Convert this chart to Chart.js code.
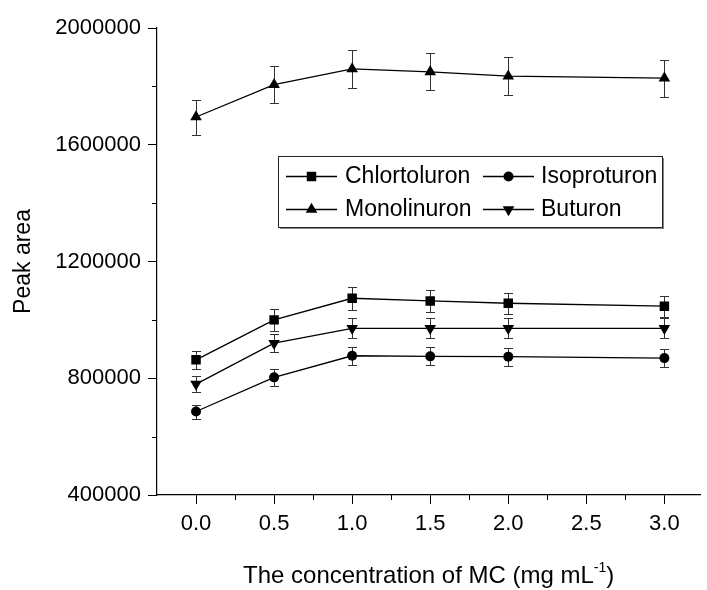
<!DOCTYPE html>
<html>
<head>
<meta charset="utf-8">
<script src="https://cdn.jsdelivr.net/npm/chart.js@4.4.0/dist/chart.umd.min.js"></script>
<style>
  html, body { margin: 0; padding: 0; background: #fff; }
  #wrap { width: 707px; height: 590px; }
</style>
</head>
<body>
<div id="wrap"><canvas id="myChart"></canvas></div>
<script>
// values
var concentration = [0, 0.5, 1.0, 1.5, 2.0, 3.0];

var chlortoluron = [863000, 1000000, 1074000, 1065000, 1057000, 1047000];
var chlortoluronErr = [30000, 37000, 39000, 37000, 36000, 36000];

var isoproturon = [686000, 803000, 877000, 875000, 874000, 869000];
var isoproturonErr = [24000, 28000, 31000, 31000, 31000, 30000];

var monolinuron = [1695000, 1806000, 1860000, 1850000, 1835000, 1828000];
var monolinuronErr = [60000, 63000, 66000, 64000, 64500, 63500];

var buturon = [780000, 920000, 971000, 971000, 971000, 971000];
var buturonErr = [27000, 31000, 34000, 34000, 34000, 34000];

var xTicks = [0, 0.5, 1.0, 1.5, 2.0, 2.5, 3.0];
var xMinorTicks = [0.25, 0.75, 1.25, 1.75, 2.25, 2.75];
var yTicks = [400000, 800000, 1200000, 1600000, 2000000];
var yMinorTicks = [600000, 1000000, 1400000, 1800000];

var FONT = '"Liberation Sans", Arial, sans-serif';

function pts(ys) {
  return ys.map(function (v, i) { return { x: concentration[i], y: v }; });
}

function series(label, ys, errs, style, rot, r) {
  return {
    label: label,
    data: pts(ys),
    errors: errs,
    borderColor: "#000",
    backgroundColor: "#000",
    borderWidth: 1.3,
    pointStyle: style,
    rotation: rot,
    pointRadius: r,
    pointHoverRadius: r,
    pointBorderWidth: 0,
    tension: 0
  };
}

var extras = {
  id: "extras",
  beforeDatasetsDraw: function (chart) {
    var ctx = chart.ctx, ys = chart.scales.y;
    ctx.save();
    ctx.strokeStyle = "#333";
    ctx.lineWidth = 1;
    chart.data.datasets.forEach(function (ds, i) {
      chart.getDatasetMeta(i).data.forEach(function (pt, j) {
        var v = ds.data[j].y, e = ds.errors[j];
        var top = Math.round(ys.getPixelForValue(v + e)) + 0.5;
        var bot = Math.round(ys.getPixelForValue(v - e)) + 0.5;
        var x = Math.round(pt.x) + 0.5;
        ctx.beginPath();
        ctx.moveTo(x, top); ctx.lineTo(x, bot);
        ctx.moveTo(x - 4.5, top); ctx.lineTo(x + 4.5, top);
        ctx.moveTo(x - 4.5, bot); ctx.lineTo(x + 4.5, bot);
        ctx.stroke();
      });
    });
    ctx.restore();
  },
  afterDraw: function (chart) {
    var ctx = chart.ctx, xs = chart.scales.x, ys = chart.scales.y;
    var area = chart.chartArea;
    ctx.save();
    // minor ticks
    ctx.strokeStyle = "#000";
    ctx.lineWidth = 1;
    ctx.beginPath();
    xMinorTicks.forEach(function (v) {
      var px = Math.round(xs.getPixelForValue(v)) + 0.5;
      ctx.moveTo(px, area.bottom); ctx.lineTo(px, area.bottom + 5);
    });
    yMinorTicks.forEach(function (v) {
      var py = Math.round(ys.getPixelForValue(v)) + 0.5;
      ctx.moveTo(area.left, py); ctx.lineTo(area.left - 5, py);
    });
    ctx.stroke();

    // x axis title with superscript
    var big = "24px " + FONT, small = "14px " + FONT;
    var t1 = "The concentration of MC (mg mL", t2 = "-1", t3 = ")";
    ctx.font = big;
    var w1 = ctx.measureText(t1).width, w3 = ctx.measureText(t3).width;
    ctx.font = small;
    var w2 = ctx.measureText(t2).width;
    var cx = (area.left + area.right) / 2;
    var x0 = cx - (w1 + w2 + w3) / 2, by = 583;
    ctx.fillStyle = "#000";
    ctx.textBaseline = "alphabetic";
    ctx.textAlign = "left";
    ctx.font = big;
    ctx.fillText(t1, x0, by);
    ctx.font = small;
    ctx.fillText(t2, x0 + w1, by - 11);
    ctx.font = big;
    ctx.fillText(t3, x0 + w1 + w2, by);

    // legend box with a soft shadow on the lower/right edge
    var bx = 278, bt = 156, bw = 384, bh = 71;
    ctx.fillStyle = "#888";
    ctx.fillRect(bx + 2, bt + 2, bw, bh);
    ctx.fillStyle = "#fff";
    ctx.fillRect(bx, bt, bw, bh);
    ctx.strokeStyle = "#222";
    ctx.lineWidth = 1;
    ctx.strokeRect(bx + 0.5, bt + 0.5, bw, bh);
    var rows = [176, 209], lineStart = [286, 483], textStart = [345, 541];
    ctx.font = "23px " + FONT;
    ctx.textBaseline = "middle";
    chart.data.datasets.forEach(function (ds, i) {
      var col = i % 2, ry = rows[Math.floor(i / 2)];
      var lx = lineStart[col];
      ctx.strokeStyle = "#000";
      ctx.lineWidth = 1.3;
      ctx.beginPath();
      ctx.moveTo(lx, ry + 0.5); ctx.lineTo(lx + 51, ry + 0.5);
      ctx.stroke();
      ctx.fillStyle = "#000";
      Chart.helpers.drawPoint(ctx, {
        pointStyle: ds.pointStyle, radius: ds.pointRadius,
        rotation: ds.rotation, borderWidth: 0
      }, lx + 25.5, ry + 0.5);
      ctx.fillStyle = "#000";
      ctx.fillText(ds.label, textStart[col], ry + 1);
    });
    ctx.restore();
  }
};

var ctx = document.getElementById("myChart").getContext("2d");
var chart = new Chart(ctx, {
  type: "line",
  data: {
    datasets: [
      series("Chlortoluron", chlortoluron, chlortoluronErr, "rect", 0, 6.7),
      series("Isoproturon", isoproturon, isoproturonErr, "circle", 0, 5),
      series("Monolinuron", monolinuron, monolinuronErr, "triangle", 0, 6.7),
      series("Buturon", buturon, buturonErr, "triangle", 180, 6.7)
    ]
  },
  options: {
    responsive: true,
    maintainAspectRatio: false,
    animation: false,
    layout: { padding: { top: 28, right: 0, left: 0, bottom: 0 } },
    plugins: { legend: { display: false }, tooltip: { enabled: false } },
    scales: {
      x: {
        type: "linear",
        min: -0.25,
        max: 3.23,
        afterBuildTicks: function (scale) {
          scale.ticks = xTicks.map(function (v) { return { value: v }; });
        },
        afterFit: function (scale) { scale.height = 95; },
        border: { display: true, color: "#000", width: 1.2 },
        grid: { display: true, drawOnChartArea: false, drawTicks: true, tickLength: 9, color: "#000" },
        ticks: {
          color: "#000",
          padding: 7,
          maxRotation: 0,
          font: { family: FONT, size: 22 },
          callback: function (v) { return Number(v).toFixed(1); }
        }
      },
      y: {
        min: 400000,
        max: 2000000,
        afterBuildTicks: function (scale) {
          scale.ticks = yTicks.map(function (v) { return { value: v }; });
        },
        afterFit: function (scale) { scale.width = 157; },
        border: { display: true, color: "#000", width: 1.2 },
        grid: { display: true, drawOnChartArea: false, drawTicks: true, tickLength: 9, color: "#000" },
        ticks: {
          color: "#000",
          padding: 7,
          font: { family: FONT, size: 22 },
          callback: function (v) { return String(v); }
        },
        title: {
          display: true,
          text: "Peak area",
          color: "#000",
          font: { family: FONT, size: 23 },
          padding: { top: 10 }
        }
      }
    }
  },
  plugins: [extras]
});
</script>
</body>
</html>
